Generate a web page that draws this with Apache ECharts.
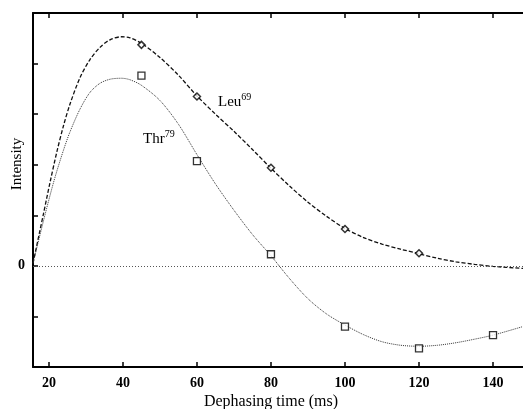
<!DOCTYPE html>
<html><head><meta charset="utf-8">
<script src="https://cdn.jsdelivr.net/npm/echarts@6/dist/echarts.min.js"></script>
<style>html,body{margin:0;padding:0;background:#fff}#c{width:523px;height:409px}</style>
</head><body><div id="c"></div>
<script>
// Tick labels
const xTicks = [20, 40, 60, 80, 100, 120, 140];
const yTicks = [-2, -1, 0, 1, 2, 3, 4, 5];
// Measured points
const leuTimes = [45, 60, 80, 100, 120];
const leuValues = [4.37, 3.35, 1.94, 0.73, 0.25];
const thrTimes = [45, 60, 80, 100, 120, 140];
const thrValues = [3.76, 2.07, 0.23, -1.2, -1.63, -1.37];
// Fitted curves
const leuFitX = [15.7, 18.5, 20.3, 22.1, 23.9, 25.7, 28.4, 31.1, 33.8, 36.5, 39.6, 41.9, 45, 50, 55, 60, 65, 70, 75, 80, 85, 90, 95, 100, 105, 110, 115, 120, 125, 130, 135, 140, 148.1];
const leuFitY = [0.05, 1.02, 1.65, 2.24, 2.76, 3.2, 3.72, 4.08, 4.32, 4.47, 4.53, 4.51, 4.4, 4.12, 3.77, 3.36, 3.0, 2.66, 2.3, 1.93, 1.58, 1.26, 0.98, 0.74, 0.56, 0.43, 0.33, 0.24, 0.15, 0.08, 0.03, -0.01, -0.05];
const thrFitX = [15.7, 17.1, 19.4, 21.6, 23.9, 25.7, 28.4, 31.1, 33.8, 36.5, 39.6, 41.9, 45, 50, 55, 60, 65, 70, 75, 80, 85, 90, 95, 100, 105, 110, 115, 120, 125, 130, 135, 140, 148.1];
const thrFitY = [0.05, 0.47, 1.14, 1.74, 2.28, 2.65, 3.1, 3.43, 3.61, 3.69, 3.71, 3.68, 3.57, 3.27, 2.8, 2.2, 1.62, 1.1, 0.62, 0.2, -0.25, -0.65, -0.95, -1.17, -1.36, -1.5, -1.57, -1.59, -1.57, -1.52, -1.45, -1.37, -1.2];

const zip = (a, b) => a.map((v, i) => [v, b[i]]);
const serif = '"Liberation Serif", "DejaVu Serif", serif';

const chart = echarts.init(document.getElementById('c'), null, {renderer: 'canvas'});
chart.setOption({
  animation: false,
  backgroundColor: '#fff',
  grid: {left: 33, top: 13, width: 490, height: 354, containLabel: false},
  xAxis: [{
    type: 'value', min: 15.7, max: 148.1, position: 'bottom',
    axisLine: {show: true, onZero: false, lineStyle: {color: '#000', width: 2}},
    axisTick: {show: true, inside: true, length: 5, customValues: xTicks, lineStyle: {color: '#000', width: 1.5}},
    axisLabel: {show: true, customValues: xTicks, margin: 9, color: '#000', fontFamily: serif, fontWeight: 'bold', fontSize: 14},
    splitLine: {show: false}
  }, {
    type: 'value', min: 15.7, max: 148.1, position: 'top',
    axisLine: {show: true, onZero: false, lineStyle: {color: '#000', width: 2}},
    axisTick: {show: true, inside: true, length: 5, customValues: xTicks, lineStyle: {color: '#000', width: 1.5}},
    axisLabel: {show: false},
    splitLine: {show: false}
  }],
  yAxis: {
    type: 'value', min: yTicks[0], max: yTicks[yTicks.length - 1], interval: 1,
    axisLine: {show: true, onZero: false, lineStyle: {color: '#000', width: 2}},
    axisTick: {show: true, inside: true, length: 5, lineStyle: {color: '#000', width: 1.5}},
    axisLabel: {show: true, margin: 8, color: '#000', fontFamily: serif, fontWeight: 'bold', fontSize: 14,
      formatter: v => (v === 0 ? '0' : '')},
    splitLine: {show: false}
  },
  series: [{
    name: 'Leu69 fit', type: 'line', data: zip(leuFitX, leuFitY), smooth: 0.3, symbol: 'none',
    lineStyle: {color: '#111', width: 1.3, type: [4, 2]}
  }, {
    name: 'Thr79 fit', type: 'line', data: zip(thrFitX, thrFitY), smooth: 0.3, symbol: 'none',
    lineStyle: {color: '#333', width: 1, type: [1, 1]},
    markLine: {silent: true, symbol: 'none', label: {show: false},
      lineStyle: {color: '#555', width: 1, type: [1, 2]}, data: [{yAxis: 0}]}
  }, {
    name: 'Leu69', type: 'scatter', data: zip(leuTimes, leuValues), symbol: 'diamond', symbolSize: 7,
    itemStyle: {color: '#fff', borderColor: '#000', borderWidth: 1.5}, z: 5
  }, {
    name: 'Thr79', type: 'scatter', data: zip(thrTimes, thrValues), symbol: 'rect', symbolSize: 7,
    itemStyle: {color: '#fff', borderColor: '#000', borderWidth: 1.3}, z: 5
  }],
  graphic: [{
    type: 'text', x: 17, y: 164, rotation: Math.PI / 2,
    style: {text: 'Intensity', fill: '#000', font: '15px ' + serif, textAlign: 'center', textVerticalAlign: 'middle'}
  }, {
    type: 'text', x: 271, y: 402,
    style: {text: 'Dephasing time (ms)', fill: '#000', font: '16px ' + serif, textAlign: 'center', textVerticalAlign: 'middle'}
  }, {
    type: 'text', x: 218, y: 92,
    style: {text: '{b|Leu}{s|69}', fill: '#000',
      rich: {b: {fontFamily: serif, fontSize: 15, verticalAlign: 'bottom', lineHeight: 18},
             s: {fontFamily: serif, fontSize: 10, verticalAlign: 'top', lineHeight: 18}}}
  }, {
    type: 'text', x: 143, y: 129,
    style: {text: '{b|Thr}{s|79}', fill: '#000',
      rich: {b: {fontFamily: serif, fontSize: 15, verticalAlign: 'bottom', lineHeight: 18},
             s: {fontFamily: serif, fontSize: 10, verticalAlign: 'top', lineHeight: 18}}}
  }]
});
</script>
</body></html>
